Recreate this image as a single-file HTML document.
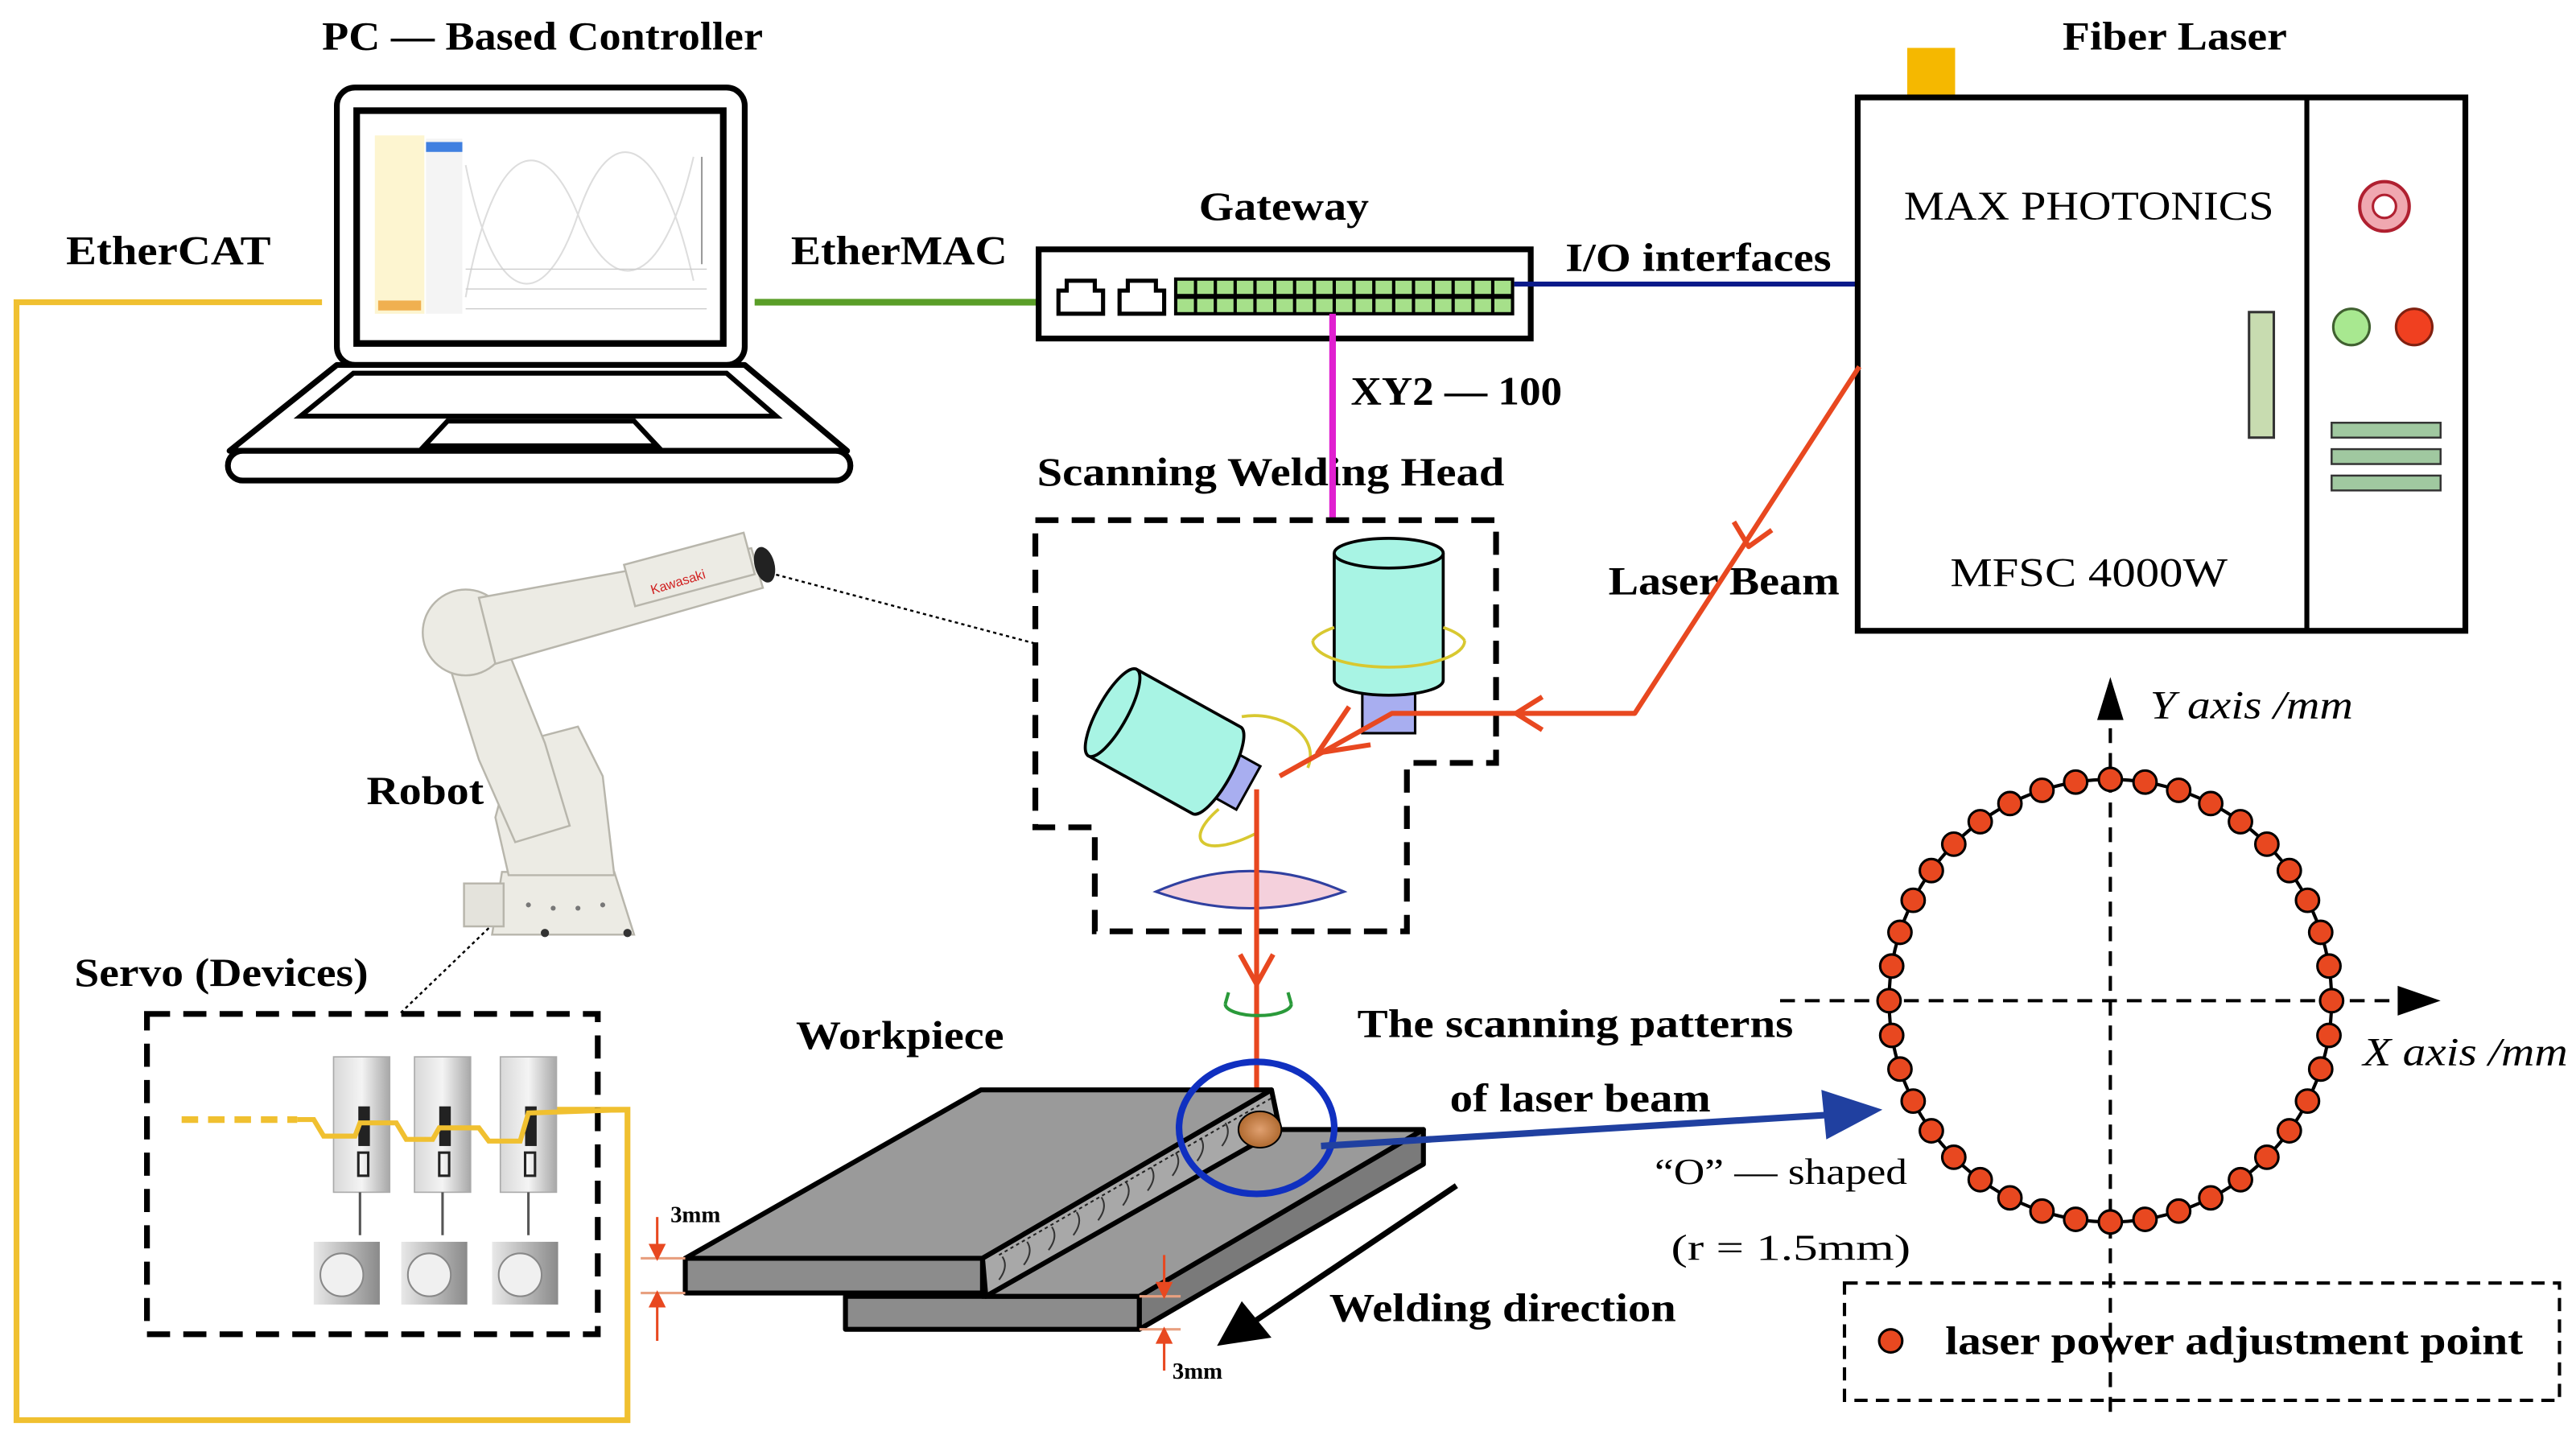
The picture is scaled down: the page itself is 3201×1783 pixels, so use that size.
<!DOCTYPE html>
<html><head><meta charset="utf-8"><style>
html,body{margin:0;padding:0;background:#fff;}
svg{display:block;}
.b{font-family:"Liberation Serif",serif;font-weight:bold;fill:#000;}
.r{font-family:"Liberation Serif",serif;fill:#000;}
</style></head><body>
<svg width="3201" height="1783" viewBox="0 0 1560 869" preserveAspectRatio="none" xmlns="http://www.w3.org/2000/svg" font-family="Liberation Serif, serif">
<defs>
<linearGradient id="drv" x1="0" x2="1"><stop offset="0" stop-color="#d8d8d8"/><stop offset="0.5" stop-color="#f4f4f4"/><stop offset="1" stop-color="#a8a8a8"/></linearGradient>
<linearGradient id="mot" x1="0" x2="1"><stop offset="0" stop-color="#e8e8e8"/><stop offset="1" stop-color="#8a8a8a"/></linearGradient>
<radialGradient id="bead"><stop offset="0" stop-color="#e0a070"/><stop offset="1" stop-color="#b06a30"/></radialGradient>
</defs>

<text class="b" x="195" y="30" font-size="24" textLength="267" lengthAdjust="spacingAndGlyphs">PC — Based Controller</text>
<text class="b" x="1249" y="30" font-size="24" textLength="136" lengthAdjust="spacingAndGlyphs">Fiber Laser</text>
<text class="b" x="40" y="160" font-size="25" textLength="124" lengthAdjust="spacingAndGlyphs">EtherCAT</text>
<text class="b" x="479" y="160" font-size="25" textLength="131" lengthAdjust="spacingAndGlyphs">EtherMAC</text>
<text class="b" x="726" y="133" font-size="24" textLength="103" lengthAdjust="spacingAndGlyphs">Gateway</text>
<text class="b" x="948" y="164" font-size="24" textLength="161" lengthAdjust="spacingAndGlyphs">I/O interfaces</text>
<text class="b" x="818" y="245" font-size="24" textLength="128" lengthAdjust="spacingAndGlyphs">XY2 — 100</text>
<text class="b" x="628" y="294" font-size="24" textLength="283" lengthAdjust="spacingAndGlyphs">Scanning Welding Head</text>
<text class="b" x="974" y="360" font-size="24" textLength="140" lengthAdjust="spacingAndGlyphs">Laser Beam</text>
<text class="b" x="222" y="487" font-size="24" textLength="71" lengthAdjust="spacingAndGlyphs">Robot</text>
<text class="b" x="45" y="597" font-size="24" textLength="178" lengthAdjust="spacingAndGlyphs">Servo (Devices)</text>
<text class="b" x="482" y="635" font-size="24" textLength="126" lengthAdjust="spacingAndGlyphs">Workpiece</text>
<text class="b" x="822" y="628" font-size="24" textLength="264" lengthAdjust="spacingAndGlyphs">The scanning patterns</text>
<text class="b" x="878" y="673" font-size="24" textLength="158" lengthAdjust="spacingAndGlyphs">of laser beam</text>
<text class="r" x="1002" y="717" font-size="22" textLength="153" lengthAdjust="spacingAndGlyphs">“O” — shaped</text>
<text class="r" x="1012" y="763" font-size="22" textLength="145" lengthAdjust="spacingAndGlyphs">(r = 1.5mm)</text>
<text class="b" x="805" y="800" font-size="24" textLength="210" lengthAdjust="spacingAndGlyphs">Welding direction</text>
<text class="r" x="406" y="740" font-size="14" font-weight="bold">3mm</text>
<text class="r" x="710" y="835" font-size="14" font-weight="bold">3mm</text>

<polyline points="195,183 10,183 10,860 380,860 380,672 330,672" fill="none" stroke="#f0c030" stroke-width="3.5"/>

<rect x="204" y="53" width="247" height="168" rx="11" fill="#fff" stroke="#000" stroke-width="3.5"/>
<rect x="216" y="67" width="222" height="141" fill="#fff" stroke="#000" stroke-width="4"/>
<rect x="227" y="82" width="30" height="108" fill="#fdf5d0"/>
<rect x="229" y="182" width="26" height="6" fill="#f0b050"/>
<rect x="258" y="84" width="22" height="106" fill="#f4f4f4"/>
<rect x="258" y="86" width="22" height="6" fill="#4080e0"/>
<path d="M282,180 C300,80 330,80 350,130 S400,180 420,95" fill="none" stroke="#ddd" stroke-width="1"/>
<path d="M282,100 C300,190 330,190 350,130 S400,80 420,170" fill="none" stroke="#ddd" stroke-width="1"/>
<line x1="282" y1="163" x2="428" y2="163" stroke="#ccc" stroke-width="0.7"/>
<line x1="282" y1="175" x2="428" y2="175" stroke="#ccc" stroke-width="0.7"/>
<line x1="282" y1="187" x2="428" y2="187" stroke="#ccc" stroke-width="0.7"/>
<line x1="425" y1="95" x2="425" y2="160" stroke="#999" stroke-width="1"/>
<polygon points="204,221 451,221 513,273 139,273" fill="#fff" stroke="#000" stroke-width="3.5" stroke-linejoin="round"/>
<polygon points="214,226 440,226 470,252 182,252" fill="#fff" stroke="#000" stroke-width="3"/>
<polygon points="271,255 384,255 398,270 257,270" fill="#fff" stroke="#000" stroke-width="3"/>
<rect x="138" y="273" width="377" height="18" rx="9" fill="#fff" stroke="#000" stroke-width="3.5"/>

<line x1="457" y1="183" x2="652" y2="183" stroke="#5a9e28" stroke-width="4"/>

<rect x="629" y="151" width="298" height="54" fill="#fff" stroke="#000" stroke-width="3.5"/>
<path d="M641,190 V176 H646 V170 H663 V176 H668 V190 Z" fill="#fff" stroke="#000" stroke-width="2.5"/>
<path d="M678,190 V176 H683 V170 H700 V176 H705 V190 Z" fill="#fff" stroke="#000" stroke-width="2.5"/>
<rect x="711" y="168" width="206" height="23" fill="#000"/>
<g fill="#a6e08a">
<rect x="713" y="170" width="10" height="8"/><rect x="725" y="170" width="10" height="8"/><rect x="737" y="170" width="10" height="8"/><rect x="749" y="170" width="10" height="8"/><rect x="761" y="170" width="10" height="8"/><rect x="773" y="170" width="10" height="8"/><rect x="785" y="170" width="10" height="8"/><rect x="797" y="170" width="10" height="8"/><rect x="809" y="170" width="10" height="8"/><rect x="821" y="170" width="10" height="8"/><rect x="833" y="170" width="10" height="8"/><rect x="845" y="170" width="10" height="8"/><rect x="857" y="170" width="10" height="8"/><rect x="869" y="170" width="10" height="8"/><rect x="881" y="170" width="10" height="8"/><rect x="893" y="170" width="10" height="8"/><rect x="905" y="170" width="10" height="8"/>
<rect x="713" y="181" width="10" height="8"/><rect x="725" y="181" width="10" height="8"/><rect x="737" y="181" width="10" height="8"/><rect x="749" y="181" width="10" height="8"/><rect x="761" y="181" width="10" height="8"/><rect x="773" y="181" width="10" height="8"/><rect x="785" y="181" width="10" height="8"/><rect x="797" y="181" width="10" height="8"/><rect x="809" y="181" width="10" height="8"/><rect x="821" y="181" width="10" height="8"/><rect x="833" y="181" width="10" height="8"/><rect x="845" y="181" width="10" height="8"/><rect x="857" y="181" width="10" height="8"/><rect x="869" y="181" width="10" height="8"/><rect x="881" y="181" width="10" height="8"/><rect x="893" y="181" width="10" height="8"/><rect x="905" y="181" width="10" height="8"/>
</g>
<line x1="917" y1="172" x2="1126" y2="172" stroke="#0a1a8a" stroke-width="3"/>
<line x1="807" y1="190" x2="807" y2="316" stroke="#e020d0" stroke-width="4"/>

<rect x="1155" y="29" width="29" height="30" fill="#f5b800"/>
<rect x="1125" y="59" width="368" height="323" fill="#fff" stroke="#000" stroke-width="3.5"/>
<line x1="1397" y1="59" x2="1397" y2="382" stroke="#000" stroke-width="3"/>
<text class="r" x="1153" y="133" font-size="25" textLength="224" lengthAdjust="spacingAndGlyphs">MAX PHOTONICS</text>
<text class="r" x="1181" y="355" font-size="25" textLength="168" lengthAdjust="spacingAndGlyphs">MFSC 4000W</text>
<circle cx="1444" cy="125" r="15" fill="#f0a8b0" stroke="#b02030" stroke-width="2"/>
<circle cx="1444" cy="125" r="7" fill="#fff" stroke="#b02030" stroke-width="1.5"/>
<circle cx="1424" cy="198" r="11" fill="#a8e890" stroke="#406030" stroke-width="1.5"/>
<circle cx="1462" cy="198" r="11" fill="#f04020" stroke="#802010" stroke-width="1.5"/>
<rect x="1362" y="189" width="15" height="76" fill="#c8dcb0" stroke="#333" stroke-width="1.5"/>
<rect x="1412" y="256" width="66" height="9" fill="#a0c8a0" stroke="#333" stroke-width="1.2"/>
<rect x="1412" y="272" width="66" height="9" fill="#a0c8a0" stroke="#333" stroke-width="1.2"/>
<rect x="1412" y="288" width="66" height="9" fill="#a0c8a0" stroke="#333" stroke-width="1.2"/>

<polygon points="627,315 906,315 906,462 852,462 852,564 663,564 663,501 627,501" fill="none" stroke="#000" stroke-width="3.5" stroke-dasharray="14,8"/>
<line x1="470" y1="348" x2="628" y2="390" stroke="#000" stroke-width="1.2" stroke-dasharray="2,2"/>
<line x1="296" y1="562" x2="242" y2="614" stroke="#000" stroke-width="1.2" stroke-dasharray="2,2"/>

<rect x="825" y="412" width="32" height="32" fill="#a8aef0" stroke="#000" stroke-width="1.5"/>
<path d="M808,335 V412 A33,9 0 0 0 874,412 V335" fill="#a8f4e4" stroke="#000" stroke-width="1.8"/>
<ellipse cx="841" cy="335" rx="33" ry="9" fill="#a8f4e4" stroke="#000" stroke-width="1.8"/>
<path d="M795,388 A46,16 0 0 0 887,388" fill="none" stroke="#d8c830" stroke-width="1.8"/>
<path d="M795,388 A46,16 0 0 1 808,380" fill="none" stroke="#d8c830" stroke-width="1.8"/>
<path d="M887,388 A46,16 0 0 0 874,380" fill="none" stroke="#d8c830" stroke-width="1.8"/>
<g transform="translate(707,450) rotate(29)">
<rect x="30" y="-15" width="26" height="30" fill="#a8aef0" stroke="#000" stroke-width="1.5"/>
<path d="M-38,-30 H34 A9,30 0 0 1 34,30 H-38 Z" fill="#a8f4e4" stroke="#000" stroke-width="1.8"/>
<ellipse cx="-38" cy="0" rx="9" ry="30" fill="#a8f4e4" stroke="#000" stroke-width="1.8"/>
</g>
<path d="M752,434 C775,430 800,445 792,465" fill="none" stroke="#d8c830" stroke-width="1.8"/>
<path d="M738,490 C715,510 730,520 760,505" fill="none" stroke="#d8c830" stroke-width="1.8"/>
<path d="M700,540 Q757,515 814,540 Q757,560 700,540 Z" fill="#f4d0dc" stroke="#3040a0" stroke-width="1.5"/>

<g stroke="#e84820" stroke-width="3" fill="none" stroke-linejoin="round">
<polyline points="1126,222 990,432 843,432 775,470"/>
<line x1="761" y1="478" x2="761" y2="690"/>
<polyline points="1050,316 1059,331 1073,321"/>
<polyline points="934,422 918,432 934,442"/>
<polyline points="817,428 798,456 830,451"/>
<polyline points="751,578 761,596 771,578"/>
</g>
<path d="M742,608 A20,7 0 0 0 782,608" fill="none" stroke="#2a9a3a" stroke-width="2"/>
<path d="M742,608 l2,-7 M782,608 l-2,-7" stroke="#2a9a3a" stroke-width="2"/>

<g stroke="#000" stroke-width="3" stroke-linejoin="round">
<polygon points="512,785 690,785 690,805 512,805" fill="#8c8c8c"/>
<polygon points="690,785 862,684 862,705 690,805" fill="#7a7a7a"/>
<polygon points="595,785 690,785 862,684 770,684" fill="#9a9a9a"/>
<polygon points="415,762 595,762 595,783 415,783" fill="#8c8c8c"/>
<polygon points="415,762 594,660 770,660 595,762" fill="#9a9a9a"/>
<polygon points="595,762 770,660 775,684 597,785" fill="#a8a8a8"/>
</g>
<g stroke="#333" stroke-width="1" fill="none">
<path d="M605,775 q6,-8 2,-14 M620,766 q6,-8 2,-14 M635,757 q6,-8 2,-14 M650,748 q6,-8 2,-14 M665,739 q6,-8 2,-14 M680,730 q6,-8 2,-14 M695,721 q6,-8 2,-14 M710,712 q6,-8 2,-14 M725,703 q6,-8 2,-14 M740,694 q6,-8 2,-14"/>
</g>
<line x1="605" y1="760" x2="770" y2="665" stroke="#222" stroke-width="1" stroke-dasharray="2,2"/>
<ellipse cx="763" cy="684" rx="13" ry="11" fill="url(#bead)" stroke="#000" stroke-width="1"/>
<ellipse cx="761" cy="683" rx="47" ry="40" fill="none" stroke="#1030c0" stroke-width="4"/>
<g stroke="#e84820" stroke-width="1.5" fill="#e84820">
<line x1="388" y1="762" x2="415" y2="762" stroke="#e8a080"/>
<line x1="388" y1="783" x2="415" y2="783" stroke="#e8a080"/>
<line x1="398" y1="737" x2="398" y2="756"/><polygon points="394,754 402,754 398,762"/>
<line x1="398" y1="791" x2="398" y2="812"/><polygon points="394,791 402,791 398,783"/>
<line x1="690" y1="785" x2="715" y2="785" stroke="#e8a080"/>
<line x1="690" y1="805" x2="715" y2="805" stroke="#e8a080"/>
<line x1="705" y1="760" x2="705" y2="778"/><polygon points="701,777 709,777 705,785"/>
<line x1="705" y1="813" x2="705" y2="830"/><polygon points="701,813 709,813 705,805"/>
</g>
<line x1="882" y1="718" x2="760" y2="800" stroke="#000" stroke-width="3.5"/>
<polygon points="737,815 752,788 770,810" fill="#000"/>

<line x1="800" y1="694" x2="1110" y2="675" stroke="#2040a0" stroke-width="4"/>
<polygon points="1140,672 1103,660 1106,690" fill="#2040a0"/>

<rect x="89" y="614" width="273" height="194" fill="none" stroke="#000" stroke-width="3.5" stroke-dasharray="14,8"/>
<g>
<rect x="202" y="640" width="34" height="82" fill="url(#drv)" stroke="#aaa" stroke-width="0.8"/>
<rect x="251" y="640" width="34" height="82" fill="url(#drv)" stroke="#aaa" stroke-width="0.8"/>
<rect x="303" y="640" width="34" height="82" fill="url(#drv)" stroke="#aaa" stroke-width="0.8"/>
<rect x="217" y="670" width="7" height="24" fill="#222"/><rect x="266" y="670" width="7" height="24" fill="#222"/><rect x="318" y="670" width="7" height="24" fill="#222"/>
<rect x="217" y="698" width="6" height="14" fill="none" stroke="#222" stroke-width="1.5"/><rect x="266" y="698" width="6" height="14" fill="none" stroke="#222" stroke-width="1.5"/><rect x="318" y="698" width="6" height="14" fill="none" stroke="#222" stroke-width="1.5"/>
<line x1="218" y1="722" x2="218" y2="748" stroke="#555" stroke-width="1.5"/><line x1="268" y1="722" x2="268" y2="748" stroke="#555" stroke-width="1.5"/><line x1="320" y1="722" x2="320" y2="748" stroke="#555" stroke-width="1.5"/>
<rect x="190" y="752" width="40" height="38" fill="url(#mot)"/>
<rect x="243" y="752" width="40" height="38" fill="url(#mot)"/>
<rect x="298" y="752" width="40" height="38" fill="url(#mot)"/>
<circle cx="207" cy="772" r="13" fill="#f0f0f0" stroke="#888"/><circle cx="260" cy="772" r="13" fill="#f0f0f0" stroke="#888"/><circle cx="315" cy="772" r="13" fill="#f0f0f0" stroke="#888"/>
</g>
<line x1="110" y1="678" x2="180" y2="678" stroke="#f0c030" stroke-width="4" stroke-dasharray="10,6"/>
<polyline points="180,678 190,678 196,688 215,688 218,680 240,680 246,690 262,690 266,683 290,683 296,691 315,691 320,674 380,672" fill="none" stroke="#f0c030" stroke-width="3"/>

<g fill="#ecebe4" stroke="#b8b6ac" stroke-width="1.2">
<polygon points="304,528 372,528 384,566 298,566"/>
<rect x="281" y="535" width="24" height="26" fill="#e4e3dc"/>
<polygon points="312,450 350,440 365,470 372,530 308,530 300,495"/>
<polygon points="268,390 298,370 330,450 345,500 312,510 290,460"/>
<circle cx="282" cy="383" r="26"/>
<polygon points="290,362 455,332 462,356 300,402"/>
<rect x="380" y="332" width="75" height="26" transform="rotate(-15 417 345)"/>
</g>
<ellipse cx="463" cy="342" rx="6" ry="11" fill="#222" transform="rotate(-15 463 342)"/>
<text x="395" y="360" font-size="8" fill="#d02020" font-family="Liberation Sans,sans-serif" transform="rotate(-17 395 360)">Kawasaki</text>
<g fill="#777"><circle cx="320" cy="548" r="1.5"/><circle cx="335" cy="550" r="1.5"/><circle cx="350" cy="550" r="1.5"/><circle cx="365" cy="548" r="1.5"/><circle cx="330" cy="565" r="2.5" fill="#333"/><circle cx="380" cy="565" r="2.5" fill="#333"/></g>

<line x1="1078" y1="606" x2="1455" y2="606" stroke="#000" stroke-width="2" stroke-dasharray="9,6"/>
<polygon points="1478,606 1452,597 1452,615" fill="#000"/>
<line x1="1278" y1="855" x2="1278" y2="432" stroke="#000" stroke-width="2" stroke-dasharray="9,6"/>
<polygon points="1278,410 1270,436 1286,436" fill="#000"/>
<text class="r" x="1302" y="435" font-size="24" font-style="italic" textLength="123" lengthAdjust="spacingAndGlyphs">Y axis /mm</text>
<text class="r" x="1431" y="645" font-size="24" font-style="italic" textLength="124" lengthAdjust="spacingAndGlyphs">X axis /mm</text>
<circle cx="1278" cy="606" r="134" fill="none" stroke="#000" stroke-width="2"/>
<g fill="#e84820" stroke="#000" stroke-width="1.5">
<circle cx="1412" cy="606" r="7"/><circle cx="1410.4" cy="627" r="7"/><circle cx="1405.4" cy="647.4" r="7"/><circle cx="1397.4" cy="666.8" r="7"/><circle cx="1386.4" cy="684.8" r="7"/><circle cx="1372.8" cy="700.8" r="7"/><circle cx="1356.8" cy="714.4" r="7"/><circle cx="1338.8" cy="725.4" r="7"/><circle cx="1319.4" cy="733.4" r="7"/><circle cx="1299" cy="738.4" r="7"/><circle cx="1278" cy="740" r="7"/>
<circle cx="1257" cy="738.4" r="7"/><circle cx="1236.6" cy="733.4" r="7"/><circle cx="1217.2" cy="725.4" r="7"/><circle cx="1199.2" cy="714.4" r="7"/><circle cx="1183.2" cy="700.8" r="7"/><circle cx="1169.6" cy="684.8" r="7"/><circle cx="1158.6" cy="666.8" r="7"/><circle cx="1150.6" cy="647.4" r="7"/><circle cx="1145.6" cy="627" r="7"/><circle cx="1144" cy="606" r="7"/>
<circle cx="1145.6" cy="585" r="7"/><circle cx="1150.6" cy="564.6" r="7"/><circle cx="1158.6" cy="545.2" r="7"/><circle cx="1169.6" cy="527.2" r="7"/><circle cx="1183.2" cy="511.2" r="7"/><circle cx="1199.2" cy="497.6" r="7"/><circle cx="1217.2" cy="486.6" r="7"/><circle cx="1236.6" cy="478.6" r="7"/><circle cx="1257" cy="473.6" r="7"/><circle cx="1278" cy="472" r="7"/>
<circle cx="1299" cy="473.6" r="7"/><circle cx="1319.4" cy="478.6" r="7"/><circle cx="1338.8" cy="486.6" r="7"/><circle cx="1356.8" cy="497.6" r="7"/><circle cx="1372.8" cy="511.2" r="7"/><circle cx="1386.4" cy="527.2" r="7"/><circle cx="1397.4" cy="545.2" r="7"/><circle cx="1405.4" cy="564.6" r="7"/><circle cx="1410.4" cy="585" r="7"/>
</g>
<rect x="1117" y="777" width="433" height="71" fill="none" stroke="#000" stroke-width="2" stroke-dasharray="8,5"/>
<circle cx="1145" cy="812" r="7" fill="#e84820" stroke="#000" stroke-width="1.5"/>
<text class="b" x="1178" y="820" font-size="24" textLength="350" lengthAdjust="spacingAndGlyphs">laser power adjustment point</text>
</svg>
</body></html>
